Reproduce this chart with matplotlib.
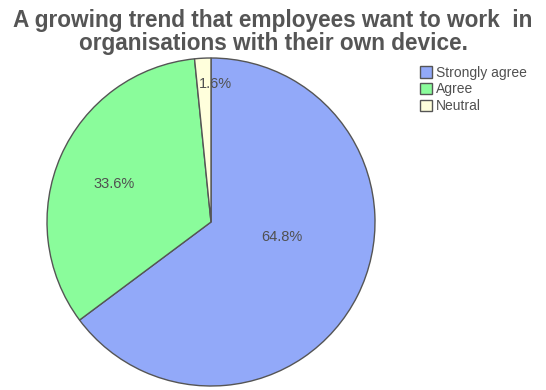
import matplotlib.pyplot as plt

labels = ['Strongly agree', 'Agree', 'Neutral']
values = [64.8, 33.6, 1.6]
colors = ['#92a9f9', '#8afc9b', '#ffffdc']
# label spots, in units of the pie radius
label_xy = [(0.43, -0.09), (-0.59, 0.23), (0.03, 0.84)]

plt.rcParams['font.family'] = ['Liberation Sans', 'DejaVu Sans']

fig = plt.figure(figsize=(5.46, 3.9), dpi=100)
ax = fig.add_axes([47 / 546, 4 / 390, 328 / 546, 328 / 390])

wedges, _ = ax.pie(values, colors=colors, startangle=90, counterclock=False,
                   wedgeprops=dict(edgecolor='#555555', linewidth=1.0))
ax.set_aspect('equal')
ax.set_xlim(-1, 1)
ax.set_ylim(-1, 1)

for v, (x, y) in zip(values, label_xy):
    ax.text(x, y, '{:.1f}%'.format(v), ha='center', va='center',
            fontsize=10.5, color='#505050')

fig.text(0.5, 1 - 32 / 390, 'A growing trend that employees want to work  in\norganisations with their own device.',
         ha='center', va='center', fontsize=16.3, fontweight='bold',
         color='#555555', linespacing=1.0)

leg = fig.legend(wedges, labels, loc='upper left', bbox_to_anchor=(414 / 546, 1 - 60 / 390),
                 frameon=False, fontsize=10, handlelength=0.9, handleheight=0.9,
                 handletextpad=0.3, labelspacing=0.2, borderaxespad=0)
for t in leg.get_texts():
    t.set_color('#505050')

fig.savefig('out.png', dpi=100)
